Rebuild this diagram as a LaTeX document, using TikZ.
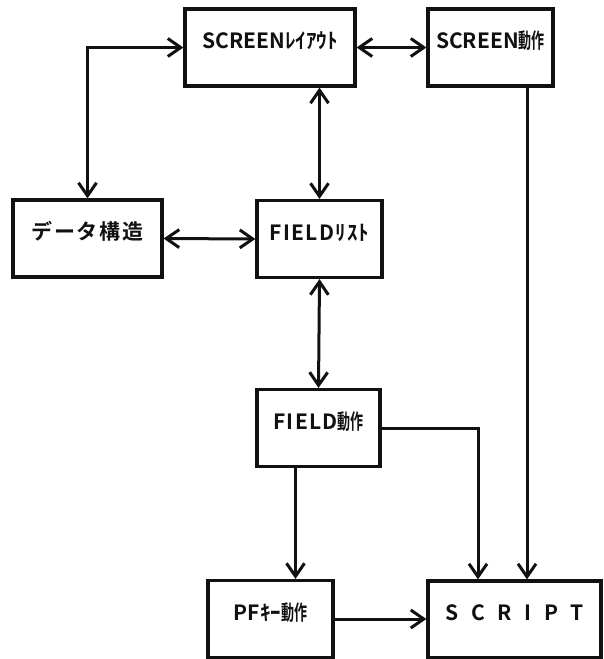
\documentclass[tikz,border=0pt]{standalone}
\usepackage{fontspec}
\setmainfont{Noto Sans CJK JP}[BoldFont=* Bold]
\usetikzlibrary{calc,positioning,arrows.meta}
\definecolor{InkBlack}{HTML}{111111}
\newcommand{\narrowkanji}[1]{{\addfontfeature{FakeStretch=0.62}#1}}

\tikzset{
  blockbox/.style={
    draw=InkBlack,
    line width=3.2pt,
    inner sep=0pt,
    minimum height=77pt,
    text height=14pt,
    text depth=12pt,
    text=InkBlack,
    font=\bfseries\fontsize{21}{24}\selectfont
  },
  link/.style={
    draw=InkBlack,
    line width=3pt,
    -{Straight Barb[length=13pt,width=18pt]}
  },
  bilink/.style={
    link,
    {Straight Barb[length=13pt,width=18pt]}-{Straight Barb[length=13pt,width=18pt]}
  }
}

\begin{document}
\begin{tikzpicture}[x=1pt,y=-1pt]
  \fill[white] (0,0) rectangle (604,659);
  \useasboundingbox (0,0) rectangle (604,659);

  % blocks
  \node[blockbox, minimum width=170pt] (layout) at (270,47.5) {SCREENﾚｲｱｳﾄ};
  \node[blockbox, minimum width=125pt] (sact) at (490.5,47.5) {SCREEN\narrowkanji{動作}};
  \node[blockbox, minimum width=149pt] (data) at (87.5,238.5) {\addfontfeature{LetterSpace=8}データ構造};
  \node[blockbox, minimum width=125pt] (flist) at (319.5,239) {\addfontfeature{LetterSpace=6}FIELDﾘｽﾄ};
  \node[blockbox, minimum width=123pt] (fact) at (318.5,428) {{\addfontfeature{LetterSpace=6}FIELD}\narrowkanji{動作}};
  \node[blockbox, minimum width=125pt] (pfkey) at (270.5,619) {PFｷｰ\narrowkanji{動作}};
  \node[blockbox, minimum width=173pt] (script) at (514.5,619.5) {\addfontfeature{LetterSpace=60}SCRIPT};

  % connectors
  \draw[bilink] (layout.west) -| (data.north);
  \draw[bilink] (layout.east) -- (sact.west);
  \draw[bilink] (flist.north |- layout.south) -- (flist.north);
  \draw[bilink] (data.east) -- (flist.west);
  \draw[bilink] (flist.south) -- (fact.north);
  \draw[link] (fact.east) -| ([xshift=-36.5pt]script.north);
  \draw[link] ([xshift=36.5pt]sact.south) -- ([xshift=12.5pt]script.north);
  \draw[link] ([xshift=-23pt]fact.south) coordinate (fdown) -- (fdown |- pfkey.north);
  \draw[link] (pfkey.east) -- (pfkey.east -| script.west);
\end{tikzpicture}
\end{document}
